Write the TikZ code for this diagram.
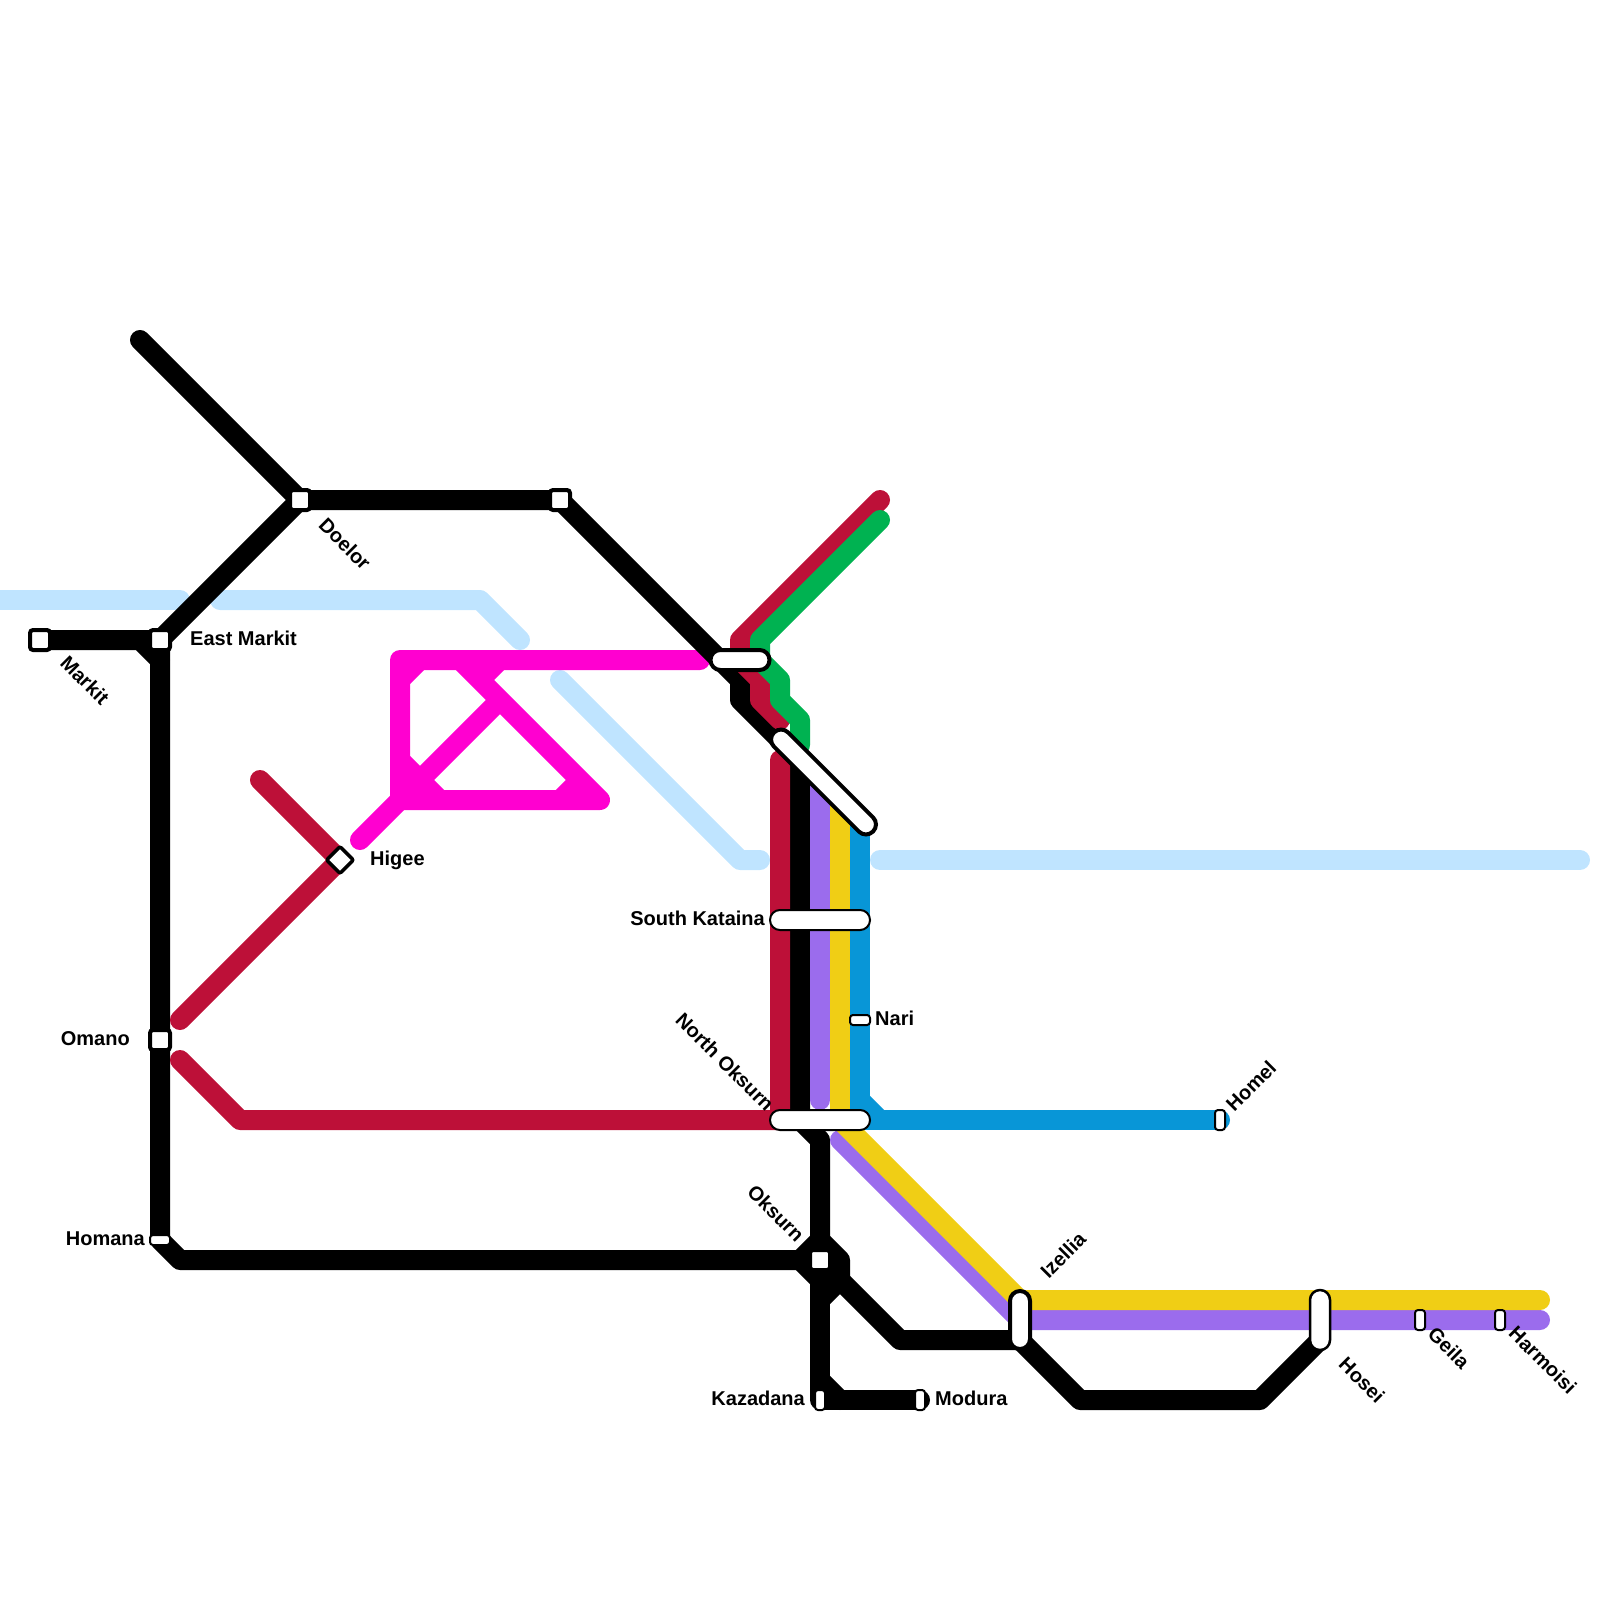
\documentclass[tikz,border=0pt]{standalone}
\usepackage{fontspec}
\setmainfont{Liberation Sans}
\usepackage{xcolor}
\usetikzlibrary{backgrounds}
\definecolor{linered}{HTML}{BD1038}
\definecolor{linegreen}{HTML}{00B251}
\definecolor{linepurple}{HTML}{9B6CED}
\definecolor{lineyellow}{HTML}{F0CE15}
\definecolor{lineblue}{HTML}{0896D7}
\definecolor{linepink}{HTML}{FF00D0}
\definecolor{linesky}{HTML}{BFE4FF}
\tikzset{
  metro/.style={line width=20pt, line cap=round, line join=round},
  stopbase/.style={draw=black, fill=white, inner sep=0pt, outer sep=0pt},
  stopsquare/.style={stopbase, line width=4pt, rounded corners=3pt, minimum width=20pt, minimum height=20pt},
  stopthinh/.style={stopbase, line width=2pt, rounded corners=3pt, minimum width=20pt, minimum height=10pt},
  stopthinv/.style={stopbase, line width=2pt, rounded corners=3pt, minimum width=10pt, minimum height=20pt},
  stoppill/.style={stopbase, rounded corners=9.9pt, minimum height=20pt},
  stoplabel/.style={font=\fontsize{20}{24}\selectfont\bfseries, inner sep=0pt},
}
\begin{document}
\begin{tikzpicture}[x=1pt, y=-1pt]
  \useasboundingbox (0,0) rectangle (1600,1600);

  % stations
  \node[stopsquare] (markit) at (40,640) {};
  \node[stopsquare] (eastmarkit) at (160,640) {};
  \node[stopsquare] (doelor) at (300,500) {};
  \node[stopsquare] (crest) at (560,500) {};
  \node[stopsquare] (omano) at (160,1040) {};
  \node[stopsquare] (oksurn) at (820,1260) {};
  \node[stopbase, line width=3.5pt, rounded corners=2pt, minimum width=19pt, minimum height=19pt, rotate=45] (higee) at (340,860) {};
  \node[stopthinh] (homana) at (160,1240) {};
  \node[stopthinh] (nari) at (860,1020) {};
  \node[stopthinv] (homel) at (1220,1120) {};
  \node[stopthinv] (geila) at (1420,1320) {};
  \node[stopthinv] (harmoisi) at (1500,1320) {};
  \node[stopthinv] (kazadana) at (820,1400) {};
  \node[stopthinv] (modura) at (920,1400) {};
  \node[stoppill, line width=4pt, minimum width=59pt] (junction) at (740,660) {};
  \node[stoppill, line width=4pt, minimum width=140pt, rotate=-45] (bend) at (823.5,782) {};
  \node[stoppill, line width=2pt, minimum width=100pt] (southkataina) at (820,920) {};
  \node[stoppill, line width=2pt, minimum width=100pt] (northoksurn) at (820,1120) {};
  \node[stoppill, line width=4pt, minimum width=58pt, rotate=90] (izellia) at (1020,1320) {};
  \node[stoppill, line width=2.5pt, minimum width=60pt, rotate=90] (hosei) at (1320,1320) {};

  % labels
  \node[stoplabel, anchor=west] (eastmarkitlabel) at (190,638) {East Markit};
  \node[stoplabel, rotate=-45] (markitlabel) at (85,680) {Markit};
  \node[stoplabel, rotate=-45] (doelorlabel) at (345,544) {Doelor};
  \node[stoplabel, anchor=east] (omanolabel) at (130,1039) {Omano};
  \node[stoplabel, anchor=east] (homanalabel) at (145,1239) {Homana};
  \node[stoplabel, anchor=west] (higeelabel) at (370,860) {Higee};
  \node[stoplabel, anchor=east] (southkatainalabel) at (765,918) {South Kataina};
  \node[stoplabel, anchor=west] (narilabel) at (875,1018) {Nari};
  \node[stoplabel, rotate=-45] (northoksurnlabel) at (725,1062) {North Oksurn};
  \node[stoplabel, rotate=-45] (oksurnlabel) at (776,1213) {Oksurn};
  \node[stoplabel, anchor=east] (kazadanalabel) at (805,1398) {Kazadana};
  \node[stoplabel, anchor=west] (moduralabel) at (935,1398) {Modura};
  \node[stoplabel, rotate=45] (izellialabel) at (1063,1255) {Izellia};
  \node[stoplabel, rotate=45] (homellabel) at (1251,1086) {Homel};
  \node[stoplabel, rotate=-45] (hoseilabel) at (1362,1380) {Hosei};
  \node[stoplabel, rotate=-45] (geilalabel) at (1449,1348) {Geila};
  \node[stoplabel, rotate=-45] (harmoisilabel) at (1543,1360) {Harmoisi};

  % free line ends
  \coordinate (blackend) at (140,340);
  \coordinate (skywest) at (-20,600);
  \coordinate (skygap) at (180,600);
  \coordinate (skyrise) at (220,600);
  \coordinate (skydrop) at (520,640);
  \coordinate (skyfall) at (560,680);
  \coordinate (skystop) at (760,860);
  \coordinate (skystart) at (880,860);
  \coordinate (skyeast) at (1580,860);
  \coordinate (pinkend) at (700,660);
  \coordinate (pinktail) at (360,840);
  \coordinate (redhigee) at (260,780);
  \coordinate (redupper) at (180,1020);
  \coordinate (redlower) at (180,1060);
  \coordinate (rednorth) at (880,500);
  \coordinate (redstub) at (780,720);
  \coordinate (redtop) at (780,760);
  \coordinate (greennorth) at (880,520);
  \coordinate (greenstub) at (800,745);
  \coordinate (purpletop) at (820,780);
  \coordinate (purplestub) at (820,1100);
  \coordinate (purplefork) at (840,1140);
  \coordinate (yellowtop) at (840,800);
  \coordinate (bluetop) at (860,820);
  \coordinate (lineeast) at (1540,1300);
  \coordinate (purpleeast) at (1540,1320);
  \coordinate (izelliafoot) at (1020,1340);
  \coordinate (hoseifoot) at (1320,1340);

  \begin{scope}[on background layer]
    \draw[metro, linesky] (skywest) -- (skygap);
    \draw[metro, linesky] (skyrise) -- (480,600) -- (skydrop);
    \draw[metro, linesky] (skyfall) -- (740,860) -- (skystop);
    \draw[metro, linesky] (skystart) -- (skyeast);

    \draw[metro, linepink] (pinkend) -- (400,660) -- (400,800) -- (pinktail);
    \draw[metro, linepink] (400,800) -- (600,800) -- (460,660);
    \draw[metro, linepink, line cap=butt] (400,800) -- (500,700);
    \draw[metro, linepink, line cap=butt] (400,680) -- (420,660);
    \draw[metro, linepink, line cap=butt] (400,760) -- (440,800);
    \draw[metro, linepink, line cap=butt] (560,800) -- (580,780);
    \draw[metro, linepink, line cap=butt] (480,680) -- (500,660);

    \draw[metro] (blackend) -- (doelor.center) -- (eastmarkit.center) -- (160,660);
    \draw[metro] (doelor.center) -- (crest.center) -- (740,680) -- (740,700) -- (800,760) -- (800,1120) -- (820,1140) -- (820,1240) -- (800,1260) -- (180,1260) -- (homana.center) -- (160,660) -- (140,640) -- (markit.center);
    \draw[metro] (markit.center) -- (eastmarkit.center);
    \draw[metro] (820,1240) -- (840,1260) -- (840,1280) -- (820,1300);
    \draw[metro] (800,1260) -- (820,1280);
    \draw[metro] (840,1280) -- (900,1340) -- (izelliafoot) -- (1080,1400) -- (1260,1400) -- (hoseifoot);
    \draw[metro] (oksurn.center) -- (kazadana.center) -- (modura.center);
    \draw[metro] (820,1380) -- (840,1400);

    \draw[metro, linered] (rednorth) -- (740,640) -- (740,660) -- (760,680) -- (760,700) -- (redstub);
    \draw[metro, linered] (redtop) -- (780,1120) -- (240,1120) -- (redlower);
    \draw[metro, linered] (redhigee) -- (higee.center) -- (redupper);
    \draw[metro, linegreen] (greennorth) -- (760,640) -- (760,660) -- (780,680) -- (780,700) -- (800,720) -- (greenstub);

    \draw[metro, linepurple] (purpletop) -- (purplestub);
    \draw[metro, linepurple] (purplefork) -- (1020,1320) -- (purpleeast);
    \draw[metro, lineyellow] (yellowtop) -- (840,1120) -- (1020,1300) -- (lineeast);
    \draw[metro, lineblue] (bluetop) -- (860,1120) -- (homel.center);
    \draw[metro, lineblue] (860,1100) -- (880,1120);
  \end{scope}
\end{tikzpicture}
\end{document}
